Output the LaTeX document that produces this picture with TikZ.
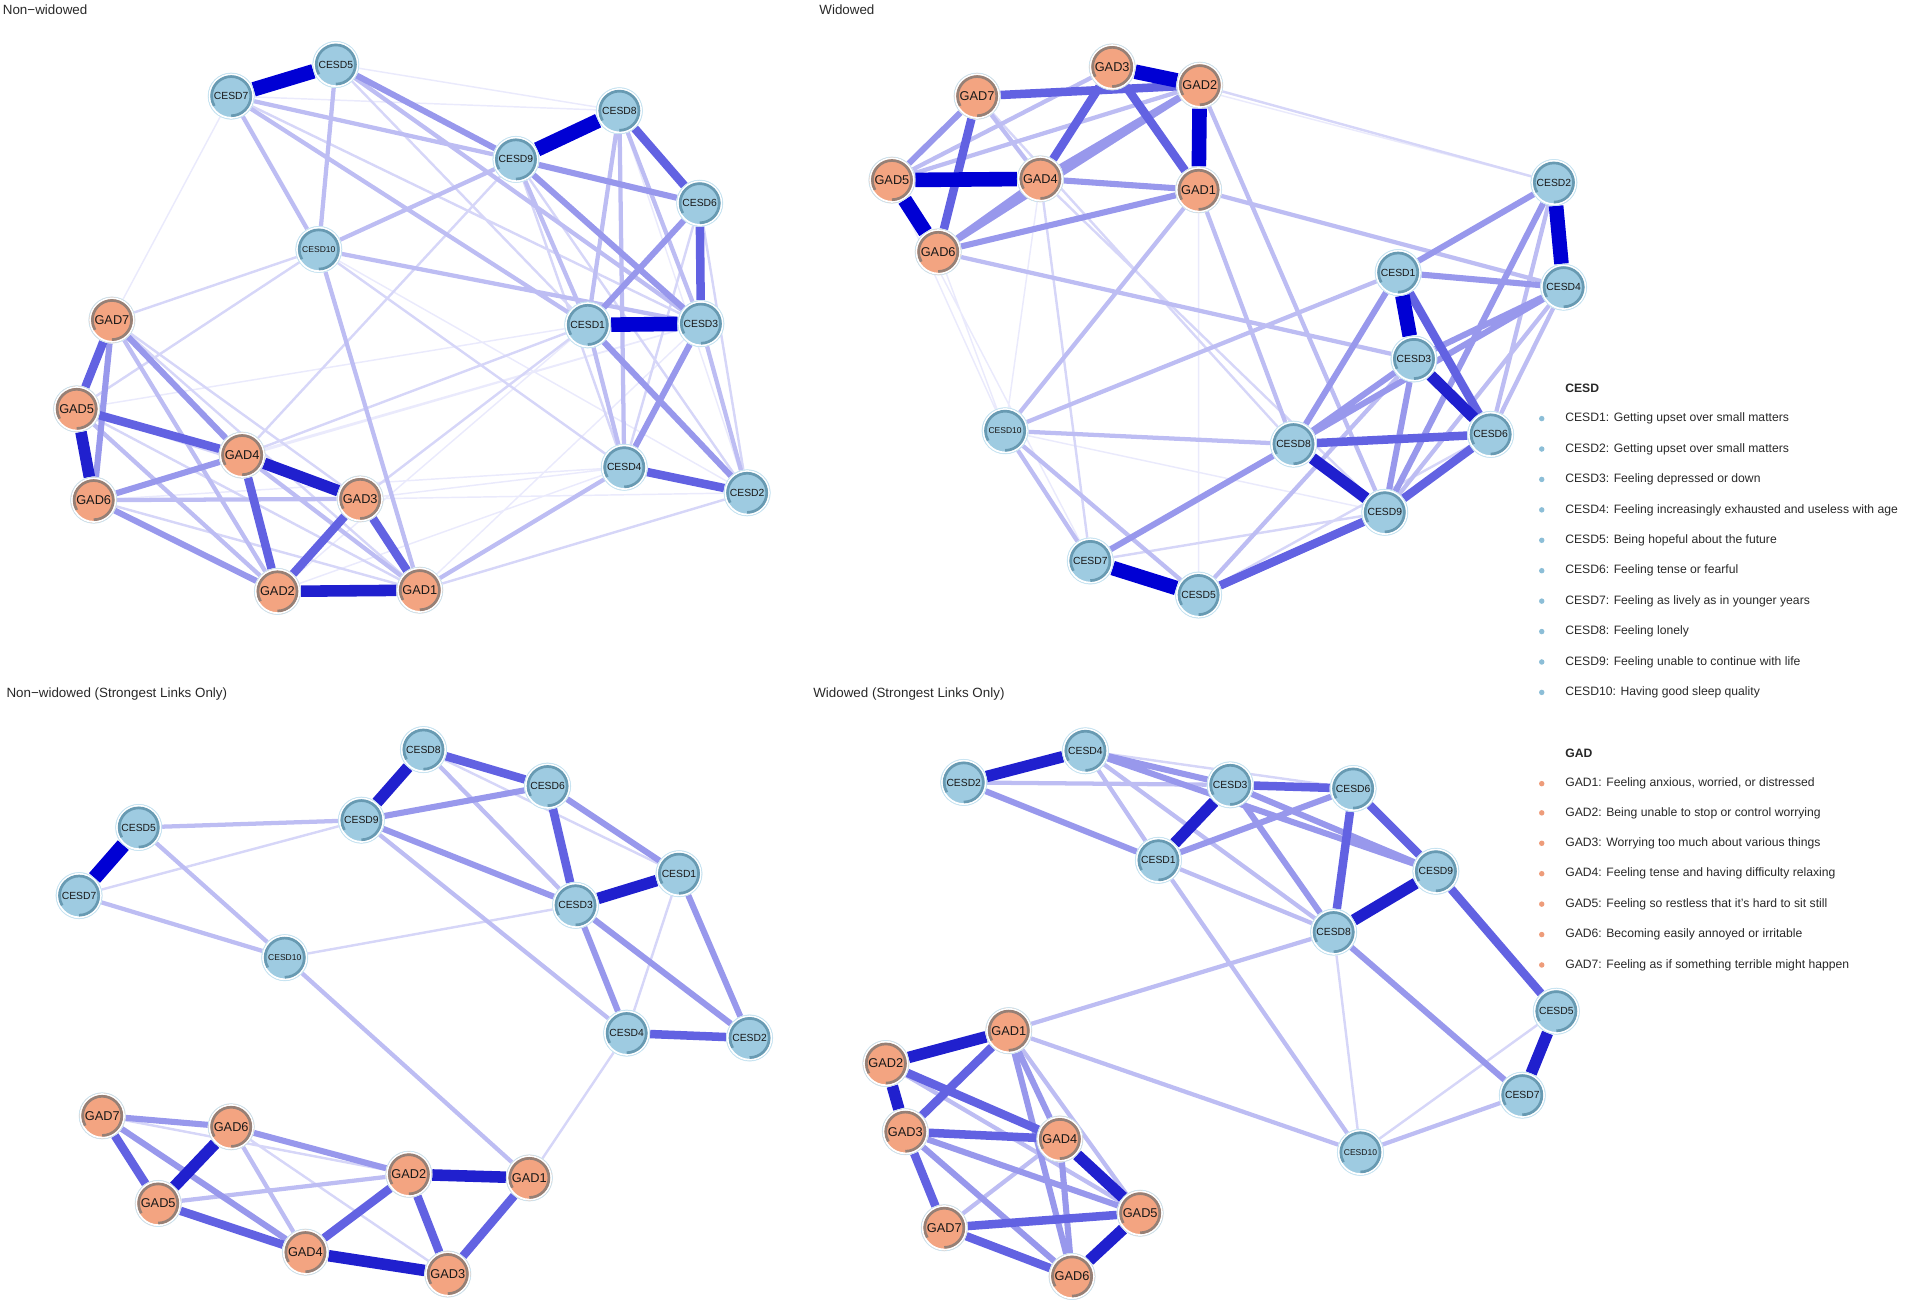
\documentclass[tikz,border=0pt]{standalone}
\usepackage{fontspec}
\setmainfont{Liberation Sans}
\usetikzlibrary{backgrounds}

\definecolor{cesdfill}{RGB}{158,203,225}
\definecolor{gadfill}{RGB}{243,164,129}
\definecolor{piecesd}{RGB}{104,154,178}
\definecolor{piegad}{RGB}{150,128,118}
\definecolor{ringc}{RGB}{200,228,242}
\definecolor{dotcesd}{RGB}{140,190,215}
\definecolor{dotgad}{RGB}{238,156,122}
\definecolor{txt}{RGB}{40,40,40}
\definecolor{cE5}{RGB}{0,0,212}
\definecolor{cE4}{RGB}{32,32,206}
\definecolor{cE3}{RGB}{98,98,226}
\definecolor{cE2}{RGB}{152,152,236}
\definecolor{cE1}{RGB}{189,189,243}
\definecolor{cE0}{RGB}{214,214,248}
\definecolor{cEf}{RGB}{234,234,252}

\tikzset{every picture/.style={line width=0.75pt}}
\tikzset{
  item/.style={circle, minimum size=38pt, inner sep=0pt, draw=ringc, line width=0.6pt, text=black!90,
    path picture={
      \draw[white, line width=1.6pt] (path picture bounding box.center) circle[radius=17.9pt];
      \draw[#1, line width=2.2pt] ([shift={(-90:16.1pt)}]path picture bounding box.center) arc[start angle=-90, delta angle=300, radius=16.1pt];
    }},
  cesd/.style={item=piecesd, fill=cesdfill, font=\fontsize{8.5}{9}\selectfont},
  cesdx/.style={cesd, font=\fontsize{7}{8}\selectfont},
  gad/.style={item=piegad, fill=gadfill, font=\fontsize{10.5}{11}\selectfont},
  title/.style={anchor=west, inner sep=0pt, text=txt, font=\fontsize{11}{13}\selectfont},
  legtext/.style={anchor=west, inner sep=0pt, text=txt, font=\fontsize{10}{12}\selectfont},
  leghead/.style={legtext, font=\fontsize{10}{12}\selectfont\bfseries},
  legdot/.style={circle, inner sep=0pt, minimum size=4.5pt},
  e5/.style={cE5, line width=12pt},
  e4/.style={cE4, line width=9.5pt},
  e3/.style={cE3, line width=7pt},
  e2/.style={cE2, line width=5pt},
  e1/.style={cE1, line width=3.5pt},
  e0/.style={cE0, line width=2pt},
  ef/.style={cEf, line width=1.2pt}
}

\begin{document}
\begin{tikzpicture}[x=1pt,y=1pt,yscale=-1,xscale=1]
	\useasboundingbox (0,0) rectangle (1568,1072);

	% Titles
	\node[title] (t1) at (2,8) {Non−widowed};
	\node[title] (t2) at (673,8) {Widowed};
	\node[title] (t3) at (5,570) {Non−widowed (Strongest Links Only)};
	\node[title] (t4) at (668,570) {Widowed (Strongest Links Only)};

	%Panel: Non-widowed
	\node[cesd] (pC7) at (190,79) {CESD7};
	\node[cesd] (pC5) at (276,53) {CESD5};
	\node[cesd] (pC8) at (509,91) {CESD8};
	\node[cesd] (pC9) at (424,131) {CESD9};
	\node[cesd] (pC6) at (575,167) {CESD6};
	\node[cesdx] (pC10) at (262,205) {CESD10};
	\node[cesd] (pC1) at (483,267) {CESD1};
	\node[cesd] (pC3) at (576,266) {CESD3};
	\node[cesd] (pC4) at (513,384) {CESD4};
	\node[cesd] (pC2) at (614,405) {CESD2};
	\node[gad] (pG7) at (92,263) {GAD7};
	\node[gad] (pG5) at (63,336) {GAD5};
	\node[gad] (pG4) at (199,374) {GAD4};
	\node[gad] (pG6) at (77,411) {GAD6};
	\node[gad] (pG3) at (296,410) {GAD3};
	\node[gad] (pG2) at (228,486) {GAD2};
	\node[gad] (pG1) at (345,485) {GAD1};

	%Panel: Widowed
	\node[gad] (qG3) at (914,55) {GAD3};
	\node[gad] (qG2) at (986,70) {GAD2};
	\node[gad] (qG7) at (803,79) {GAD7};
	\node[gad] (qG5) at (733,148) {GAD5};
	\node[gad] (qG4) at (855,147) {GAD4};
	\node[gad] (qG1) at (985,156) {GAD1};
	\node[gad] (qG6) at (771,207) {GAD6};
	\node[cesd] (qC2) at (1277,150) {CESD2};
	\node[cesd] (qC1) at (1149,224) {CESD1};
	\node[cesd] (qC4) at (1285,236) {CESD4};
	\node[cesd] (qC3) at (1162,295) {CESD3};
	\node[cesdx] (qC10) at (826,354) {CESD10};
	\node[cesd] (qC8) at (1063,365) {CESD8};
	\node[cesd] (qC6) at (1225,357) {CESD6};
	\node[cesd] (qC9) at (1138,421) {CESD9};
	\node[cesd] (qC7) at (896,461) {CESD7};
	\node[cesd] (qC5) at (985,489) {CESD5};

	%Panel: Non-widowed (Strongest Links Only)
	\node[cesd] (rC8) at (348,616) {CESD8};
	\node[cesd] (rC6) at (450,646) {CESD6};
	\node[cesd] (rC9) at (297,674) {CESD9};
	\node[cesd] (rC5) at (114,680) {CESD5};
	\node[cesd] (rC1) at (558,718) {CESD1};
	\node[cesd] (rC7) at (65,736) {CESD7};
	\node[cesd] (rC3) at (473,744) {CESD3};
	\node[cesdx] (rC10) at (234,787) {CESD10};
	\node[cesd] (rC4) at (515,849) {CESD4};
	\node[cesd] (rC2) at (616,853) {CESD2};
	\node[gad] (rG7) at (84,917) {GAD7};
	\node[gad] (rG6) at (190,926) {GAD6};
	\node[gad] (rG2) at (336,965) {GAD2};
	\node[gad] (rG1) at (435,968) {GAD1};
	\node[gad] (rG5) at (130,989) {GAD5};
	\node[gad] (rG4) at (251,1029) {GAD4};
	\node[gad] (rG3) at (368,1047) {GAD3};

	%Panel: Widowed (Strongest Links Only)
	\node[cesd] (sC4) at (892,617) {CESD4};
	\node[cesd] (sC2) at (792,643) {CESD2};
	\node[cesd] (sC3) at (1011,645) {CESD3};
	\node[cesd] (sC6) at (1112,648) {CESD6};
	\node[cesd] (sC1) at (952,707) {CESD1};
	\node[cesd] (sC9) at (1180,716) {CESD9};
	\node[cesd] (sC8) at (1096,766) {CESD8};
	\node[cesd] (sC5) at (1279,831) {CESD5};
	\node[cesd] (sC7) at (1251,900) {CESD7};
	\node[cesdx] (sC10) at (1118,947) {CESD10};
	\node[gad] (sG1) at (829,847) {GAD1};
	\node[gad] (sG2) at (728,874) {GAD2};
	\node[gad] (sG3) at (744,930) {GAD3};
	\node[gad] (sG4) at (871,936) {GAD4};
	\node[gad] (sG5) at (937,997) {GAD5};
	\node[gad] (sG7) at (776,1009) {GAD7};
	\node[gad] (sG6) at (881,1049) {GAD6};

	% Edges, weakest first
	\begin{scope}[on background layer]
	% Non-widowed
	\draw[ef] (pG6)--(pC4) (pG6)--(pC3) (pG3)--(pC4) (pG2)--(pC4) (pG2)--(pC1) (pC10)--(pC2) (pC7)--(pC8) (pC5)--(pC8) (pC8)--(pC2) (pG1)--(pC3) (pG5)--(pC1) (pG7)--(pC7) (pG4)--(pC3) (pG3)--(pC2);
	\draw[e0] (pG7)--(pC10) (pG5)--(pC10) (pG4)--(pC9) (pG4)--(pC1) (pG3)--(pC1) (pG1)--(pC2) (pC10)--(pC4) (pC7)--(pC3) (pC5)--(pC1) (pC9)--(pC2) (pC9)--(pC4) (pC6)--(pC4) (pC6)--(pC2) (pG7)--(pG3) (pG7)--(pG1) (pG5)--(pG3) (pG5)--(pG1) (pG6)--(pG1);
	\draw[e1] (pC7)--(pC9) (pC7)--(pC10) (pC5)--(pC10) (pC9)--(pC1) (pC8)--(pC1) (pC8)--(pC3) (pC3)--(pC2) (pC10)--(pG1) (pC10)--(pC3) (pC10)--(pC9) (pC7)--(pC1) (pC5)--(pC3) (pC8)--(pC4) (pC1)--(pC4) (pG1)--(pC4) (pG7)--(pG2) (pG5)--(pG2) (pG6)--(pG3) (pG4)--(pG1);
	\draw[e2] (pC5)--(pC9) (pC9)--(pC6) (pC6)--(pC1) (pC9)--(pC3) (pC3)--(pC4) (pC1)--(pC2) (pG7)--(pG6) (pG7)--(pG4) (pG6)--(pG4) (pG6)--(pG2);
	\draw[e3] (pC8)--(pC6) (pC6)--(pC3) (pC4)--(pC2) (pG7)--(pG5) (pG5)--(pG4) (pG4)--(pG2) (pG3)--(pG2) (pG3)--(pG1);
	\draw[e4] (pG5)--(pG6) (pG4)--(pG3) (pG2)--(pG1);
	\draw[e5] (pC7)--(pC5) (pC9)--(pC8) (pC1)--(pC3);
	% Widowed
	\draw[ef] (qG5)--(qC10) (qG6)--(qC10) (qG4)--(qC10) (qG1)--(qC5) (qG3)--(qC2) (qG5)--(qC7) (qC10)--(qC9);
	\draw[e0] (qG2)--(qC2) (qG4)--(qC7) (qG4)--(qC9) (qG7)--(qC8) (qC7)--(qC9) (qC5)--(qC6);
	\draw[e1] (qG1)--(qC8) (qG1)--(qC10) (qC10)--(qC1) (qC10)--(qC8) (qC10)--(qC7) (qC10)--(qC5) (qG6)--(qC3) (qG2)--(qC9) (qG1)--(qC4) (qC6)--(qC4) (qC6)--(qC2) (qC9)--(qC4) (qG5)--(qG2) (qG5)--(qG3) (qG7)--(qG4) (qC5)--(qC3);
	\draw[e2] (qG7)--(qG5) (qG2)--(qG4) (qG4)--(qG1) (qG6)--(qG1) (qG6)--(qG4) (qG6)--(qG2) (qC8)--(qC7) (qC1)--(qC2) (qC1)--(qC4) (qC3)--(qC4) (qC8)--(qC4) (qC9)--(qC3) (qC8)--(qC3) (qC8)--(qC1) (qC9)--(qC2);
	\draw[e3] (qG7)--(qG2) (qG3)--(qG4) (qG7)--(qG6) (qG3)--(qG1) (qC8)--(qC6) (qC1)--(qC6) (qC6)--(qC9) (qC9)--(qC5);
	\draw[e4] (qC8)--(qC9) (qC3)--(qC6);
	\draw[e5] (qG3)--(qG2) (qG2)--(qG1) (qG5)--(qG4) (qG5)--(qG6) (qC2)--(qC4) (qC1)--(qC3) (qC7)--(qC5);
	% Non-widowed (Strongest Links Only)
	\draw[e0] (rC1)--(rC4) (rC8)--(rC1) (rC7)--(rC9) (rC10)--(rC3) (rC4)--(rG1) (rG7)--(rG2) (rG6)--(rG3);
	\draw[e1] (rC9)--(rC5) (rC9)--(rC4) (rC8)--(rC3) (rC7)--(rC10) (rC5)--(rC10) (rC10)--(rG1) (rG6)--(rG4) (rG5)--(rG2);
	\draw[e2] (rC6)--(rC1) (rC3)--(rC4) (rC3)--(rC2) (rC1)--(rC2) (rC9)--(rC6) (rC9)--(rC3) (rG7)--(rG6) (rG7)--(rG4) (rG6)--(rG2);
	\draw[e3] (rC8)--(rC6) (rC6)--(rC3) (rC4)--(rC2) (rG7)--(rG5) (rG1)--(rG3) (rG2)--(rG3) (rG2)--(rG4) (rG5)--(rG4);
	\draw[e4] (rC8)--(rC9) (rC3)--(rC1) (rG2)--(rG1) (rG4)--(rG3) (rG6)--(rG5);
	\draw[e5] (rC5)--(rC7);
	% Widowed (Strongest Links Only)
	\draw[e0] (sC4)--(sC6) (sC8)--(sC10) (sC10)--(sC5);
	\draw[e1] (sC2)--(sC3) (sC4)--(sC1) (sC4)--(sC8) (sC1)--(sC8) (sC1)--(sC10) (sC8)--(sG1) (sC7)--(sC10) (sG1)--(sC10) (sG1)--(sG5) (sG4)--(sG7) (sG2)--(sG5);
	\draw[e2] (sC2)--(sC1) (sC4)--(sC3) (sC4)--(sC9) (sC1)--(sC6) (sC3)--(sC9) (sC3)--(sC8) (sC8)--(sC7) (sG1)--(sG4) (sG1)--(sG6) (sG3)--(sG5) (sG3)--(sG6) (sG4)--(sG6);
	\draw[e3] (sC3)--(sC6) (sC6)--(sC8) (sC6)--(sC9) (sC9)--(sC5) (sG1)--(sG3) (sG2)--(sG4) (sG3)--(sG4) (sG7)--(sG6) (sG3)--(sG7) (sG7)--(sG5);
	\draw[e4] (sC2)--(sC4) (sC3)--(sC1) (sC8)--(sC9) (sC5)--(sC7) (sG1)--(sG2) (sG2)--(sG3) (sG4)--(sG5) (sG5)--(sG6);
	\end{scope}

	% Legend
	\node[leghead] (hC) at (1286,319) {CESD};
	\node[legdot, fill=dotcesd] (d1) at (1267,344) {};   \node[legtext] (l1) at (1286,344) {CESD1: Getting upset over small matters};
	\node[legdot, fill=dotcesd] (d2) at (1267,369) {};   \node[legtext] (l2) at (1286,369) {CESD2: Getting upset over small matters};
	\node[legdot, fill=dotcesd] (d3) at (1267,394) {};   \node[legtext] (l3) at (1286,394) {CESD3: Feeling depressed or down};
	\node[legdot, fill=dotcesd] (d4) at (1267,419) {};   \node[legtext] (l4) at (1286,419) {CESD4: Feeling increasingly exhausted and useless with age};
	\node[legdot, fill=dotcesd] (d5) at (1267,444) {};   \node[legtext] (l5) at (1286,444) {CESD5: Being hopeful about the future};
	\node[legdot, fill=dotcesd] (d6) at (1267,469) {};   \node[legtext] (l6) at (1286,469) {CESD6: Feeling tense or fearful};
	\node[legdot, fill=dotcesd] (d7) at (1267,494) {};   \node[legtext] (l7) at (1286,494) {CESD7: Feeling as lively as in younger years};
	\node[legdot, fill=dotcesd] (d8) at (1267,519) {};   \node[legtext] (l8) at (1286,519) {CESD8: Feeling lonely};
	\node[legdot, fill=dotcesd] (d9) at (1267,544) {};   \node[legtext] (l9) at (1286,544) {CESD9: Feeling unable to continue with life};
	\node[legdot, fill=dotcesd] (d10) at (1267,569) {};  \node[legtext] (l10) at (1286,569) {CESD10: Having good sleep quality};
	\node[leghead] (hG) at (1286,619) {GAD};
	\node[legdot, fill=dotgad] (g1) at (1267,644) {};    \node[legtext] (k1) at (1286,644) {GAD1: Feeling anxious, worried, or distressed};
	\node[legdot, fill=dotgad] (g2) at (1267,668) {};    \node[legtext] (k2) at (1286,668) {GAD2: Being unable to stop or control worrying};
	\node[legdot, fill=dotgad] (g3) at (1267,693) {};    \node[legtext] (k3) at (1286,693) {GAD3: Worrying too much about various things};
	\node[legdot, fill=dotgad] (g4) at (1267,718) {};    \node[legtext] (k4) at (1286,718) {GAD4: Feeling tense and having difficulty relaxing};
	\node[legdot, fill=dotgad] (g5) at (1267,743) {};    \node[legtext] (k5) at (1286,743) {GAD5: Feeling so restless that it's hard to sit still};
	\node[legdot, fill=dotgad] (g6) at (1267,768) {};    \node[legtext] (k6) at (1286,768) {GAD6: Becoming easily annoyed or irritable};
	\node[legdot, fill=dotgad] (g7) at (1267,793) {};    \node[legtext] (k7) at (1286,793) {GAD7: Feeling as if something terrible might happen};

\end{tikzpicture}
\end{document}
